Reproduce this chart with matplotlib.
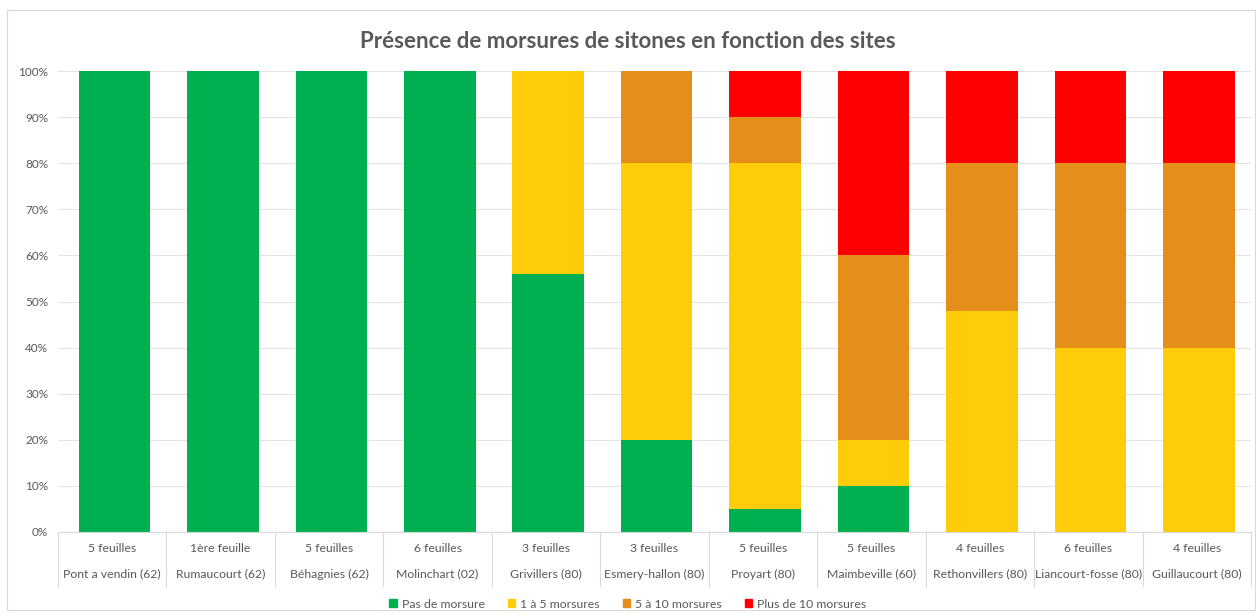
import numpy as np
import matplotlib.pyplot as plt
import matplotlib.patches as mpatches
from matplotlib.ticker import PercentFormatter
from matplotlib.transforms import blended_transform_factory

# data
sites = ["Pont a vendin (62)", "Rumaucourt (62)", "Béhagnies (62)", "Molinchart (02)",
         "Grivillers (80)", "Esmery-hallon (80)", "Proyart (80)", "Maimbeville (60)",
         "Rethonvillers (80)", "Liancourt-fosse (80)", "Guillaucourt (80)"]
stages = ["5 feuilles", "1ère feuille", "5 feuilles", "6 feuilles", "3 feuilles", "3 feuilles",
          "5 feuilles", "5 feuilles", "4 feuilles", "6 feuilles", "4 feuilles"]
pas_de_morsure = [100, 100, 100, 100, 56, 20, 5, 10, 0, 0, 0]
un_a_cinq = [0, 0, 0, 0, 44, 60, 75, 10, 48, 40, 40]
cinq_a_dix = [0, 0, 0, 0, 0, 20, 10, 40, 32, 40, 40]
plus_de_dix = [0, 0, 0, 0, 0, 0, 10, 40, 20, 20, 20]

series = [
    ("Pas de morsure", pas_de_morsure, "#00B050"),
    ("1 à 5 morsures", un_a_cinq, "#FFCC0A"),
    ("5 à 10 morsures", cinq_a_dix, "#E58E1A"),
    ("Plus de 10 morsures", plus_de_dix, "#FF0000"),
]

plt.rcParams["font.family"] = ["Lato", "DejaVu Sans"]
txt = "#595959"
grid = "#E3E3E3"

fig = plt.figure(figsize=(12.56, 6.16), dpi=100)
fig.patches.append(mpatches.Rectangle((7 / 1256, 6 / 616), 1 - 8 / 1256, 1 - 16 / 616,
                                      transform=fig.transFigure, fill=False,
                                      edgecolor="#D9D9D9", linewidth=0.8))
ax = fig.add_axes([58 / 1256, 1 - 532 / 616, (1251 - 58) / 1256, (532 - 71) / 616])

x = np.arange(len(sites))
bottom = np.zeros(len(sites))
for label, vals, color in series:
    vals = np.asarray(vals, dtype=float)
    ax.bar(x + 0.02, vals, width=0.66, bottom=bottom, color=color, label=label, zorder=2)
    bottom += vals

ax.set_xlim(-0.5, len(sites) - 0.5)
ax.set_ylim(0, 100)
ax.set_yticks(np.arange(0, 101, 10))
ax.yaxis.set_major_formatter(PercentFormatter(decimals=0))
ax.tick_params(axis="y", length=0, labelsize=8.5, labelcolor=txt, pad=7)
ax.grid(True, axis="y", color=grid, linewidth=0.8, zorder=0)
for s in ["top", "right", "left"]:
    ax.spines[s].set_visible(False)
ax.spines["bottom"].set_color("#D9D9D9")
ax.set_xticks([])

# two-level category labels with separators
tr = blended_transform_factory(ax.transData, ax.transAxes)
h = (532 - 71)
for i in range(len(sites)):
    ax.text(i, -16 / h, stages[i], transform=tr, ha="center", va="center",
            fontsize=8.8, color=txt, clip_on=False)
    ax.text(i, -42 / h, sites[i], transform=tr, ha="center", va="center",
            fontsize=8.8, color=txt, clip_on=False)
for b in np.arange(len(sites) + 1) - 0.5:
    ax.plot([b, b], [0, -54 / h], transform=tr, color="#D9D9D9", linewidth=0.8,
            clip_on=False)

fig.text(0.5, 1 - 42 / 616, "Présence de morsures de sitones en fonction des sites",
         ha="center", va="center", fontsize=16, fontweight="bold", color=txt)

handles = [mpatches.Patch(color=c, label=l) for l, _, c in series]
fig.legend(handles=handles, loc="center", bbox_to_anchor=(0.5, 1 - 604 / 616), ncol=4,
           frameon=False, fontsize=8.8, labelcolor=txt, handlelength=0.6, handleheight=0.6,
           handletextpad=0.4, columnspacing=1.9)

fig.savefig("out.png", dpi=100)
